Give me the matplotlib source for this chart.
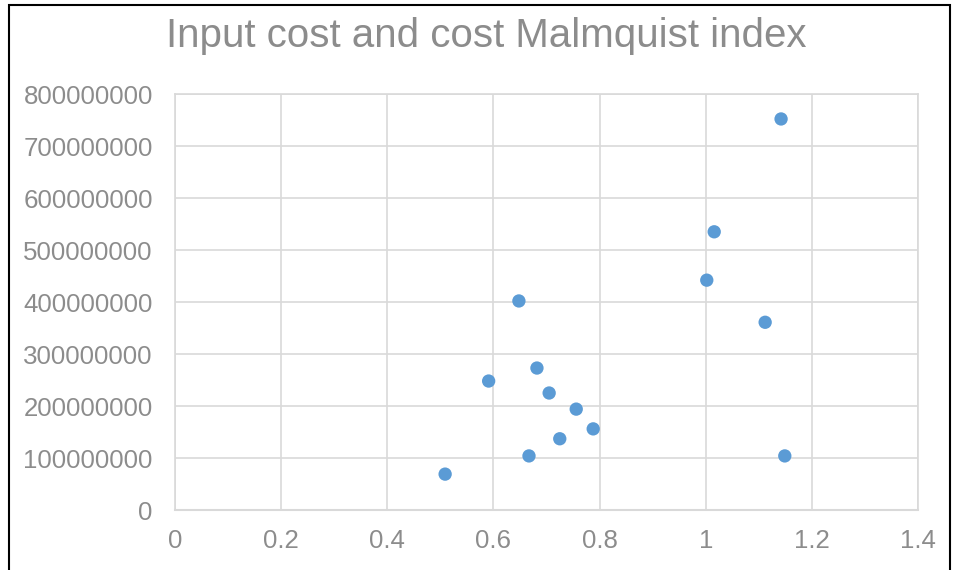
import matplotlib
matplotlib.use("Agg")
import matplotlib.pyplot as plt
from matplotlib.patches import Rectangle

plt.rcParams["font.family"] = ["Liberation Sans", "DejaVu Sans"]

# Dados
malmquist = [1.142, 1.016, 1.002, 1.112, 0.648, 0.591, 0.682, 0.705,
             0.756, 0.788, 0.725, 0.667, 1.149, 0.509]
custo_insumo = [752e6, 535e6, 442e6, 361e6, 402e6, 248e6, 273e6, 225e6,
                194e6, 156e6, 137e6, 104e6, 104e6, 69e6]
x_ticks = [0, 0.2, 0.4, 0.6, 0.8, 1, 1.2, 1.4]
x_labels = ["0", "0.2", "0.4", "0.6", "0.8", "1", "1.2", "1.4"]
y_ticks = [i * 100000000 for i in range(9)]

W, H = 954, 570
fig = plt.figure(figsize=(W / 100, H / 100), dpi=100)
ax = fig.add_axes([175 / W, 1 - 510 / H, (918 - 175) / W, (510 - 94) / H])

cinza = "#8c8c8c"
grade = "#d9d9d9"

ax.scatter(malmquist, custo_insumo, s=92, color="#5b9bd5", zorder=3,
           edgecolors="none")

ax.set_xlim(0, 1.4)
ax.set_ylim(0, 800000000)
ax.set_xticks(x_ticks)
ax.set_xticklabels(x_labels)
ax.set_yticks(y_ticks)
ax.set_yticklabels([str(v) for v in y_ticks])
ax.grid(True, color=grade, linewidth=1.2)
ax.set_axisbelow(True)
for lado in ax.spines.values():
    lado.set_color(grade)
    lado.set_linewidth(1.2)
ax.spines["bottom"].set_linewidth(1.5)
ax.tick_params(length=0, colors=cinza, labelsize=18.6)
ax.tick_params(axis="y", pad=16)
ax.tick_params(axis="x", pad=14)

fig.text(486 / W, 1 - 36 / H, "Input cost and cost Malmquist index",
         ha="center", va="center", fontsize=29, color=cinza)

# moldura externa
fig.patches.append(Rectangle((9 / W, -0.05), (950 - 9) / W, 1 - 5 / H + 0.05,
                             transform=fig.transFigure, fill=False,
                             edgecolor="black", linewidth=1.5))

fig.savefig("out.png", dpi=100)
